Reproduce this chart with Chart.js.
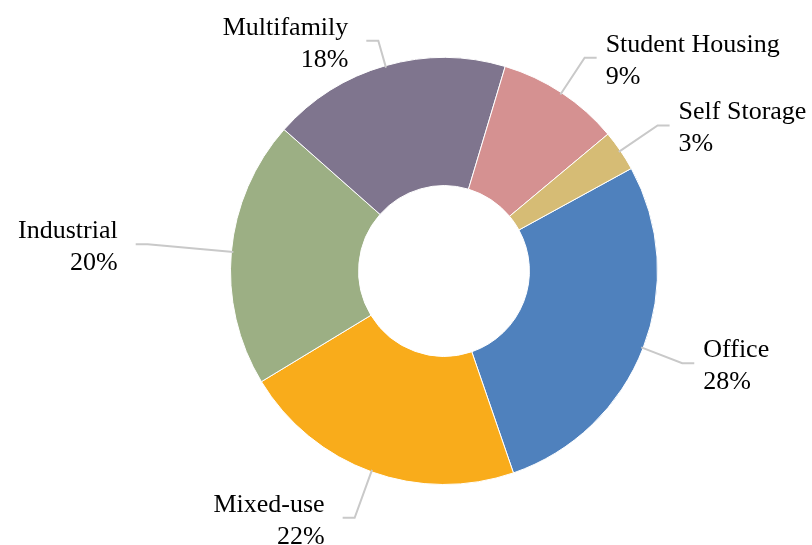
<!DOCTYPE html>
<html>
<head>
<meta charset="utf-8">
<script src="https://cdn.jsdelivr.net/npm/chart.js@4.4.0/dist/chart.umd.min.js"></script>
<style>
  body { margin: 0; background: #fff; }
  #wrap { width: 812px; height: 545px; }
</style>
</head>
<body>
<div id="wrap"><canvas id="myChart" width="812" height="545"></canvas></div>
<script>
// datos (porcentajes)
let categorias = ['Office', 'Mixed-use', 'Industrial', 'Multifamily', 'Student Housing', 'Self Storage'];
let valores = [27.7, 21.6, 20.2, 18.1, 9.3, 3.1];
let colores = ['#4F81BD', '#F9AC1B', '#9CAF84', '#7F758E', '#D59191', '#D6BC75'];

// colocacion de las etiquetas: distancia extra del codo y lado del texto
let extraCodo = [42, 49, 84, 26, 42, 45];

let etiquetasPlugin = {
    id: 'etiquetas',
    afterDraw(chart) {
        let ctx = chart.ctx;
        let meta = chart.getDatasetMeta(0);
        let total = valores.reduce((a, b) => a + b, 0);
        ctx.save();
        ctx.font = '26px "Liberation Serif", "Times New Roman", serif';
        ctx.textBaseline = 'alphabetic';
        for (let i = 0; i < meta.data.length; i++) {
            let arc = meta.data[i];
            let mid = (arc.startAngle + arc.endAngle) / 2;
            let cx = arc.x, cy = arc.y, r = arc.outerRadius;
            let x0 = cx + Math.cos(mid) * (r - 2);
            let y0 = cy + Math.sin(mid) * (r - 2);
            let x1 = cx + Math.cos(mid) * (r + extraCodo[i]);
            let y1 = cy + Math.sin(mid) * (r + extraCodo[i]);
            let derecha = Math.cos(mid) > 0;
            let x2 = derecha ? x1 + 12 : x1 - 12;

            ctx.strokeStyle = '#C9C9C9';
            ctx.lineWidth = 2;
            ctx.beginPath();
            ctx.moveTo(x0, y0);
            ctx.lineTo(x1, y1);
            ctx.lineTo(x2, y1);
            ctx.stroke();

            let pct = Math.round(valores[i] / total * 100) + '%';
            ctx.fillStyle = '#000';
            if (derecha) {
                ctx.textAlign = 'left';
                ctx.fillText(categorias[i], x2 + 9, y1 - 6);
                ctx.fillText(pct, x2 + 9, y1 + 26);
            } else {
                ctx.textAlign = 'right';
                ctx.fillText(categorias[i], x2 - 18, y1 - 6);
                ctx.fillText(pct, x2 - 18, y1 + 26);
            }
        }
        ctx.restore();
    }
};

new Chart('myChart', {
    type: 'doughnut',
    data: {
        labels: categorias,
        datasets: [{
            data: valores,
            backgroundColor: colores,
            borderColor: '#ffffff',
            borderWidth: 1
        }]
    },
    options: {
        responsive: false,
        animation: false,
        rotation: 61.3,
        cutout: '40%',
        layout: { padding: { left: 230, right: 154, top: 57, bottom: 60 } },
        plugins: {
            legend: { display: false },
            tooltip: { enabled: false }
        }
    },
    plugins: [etiquetasPlugin]
});
</script>
</body>
</html>
